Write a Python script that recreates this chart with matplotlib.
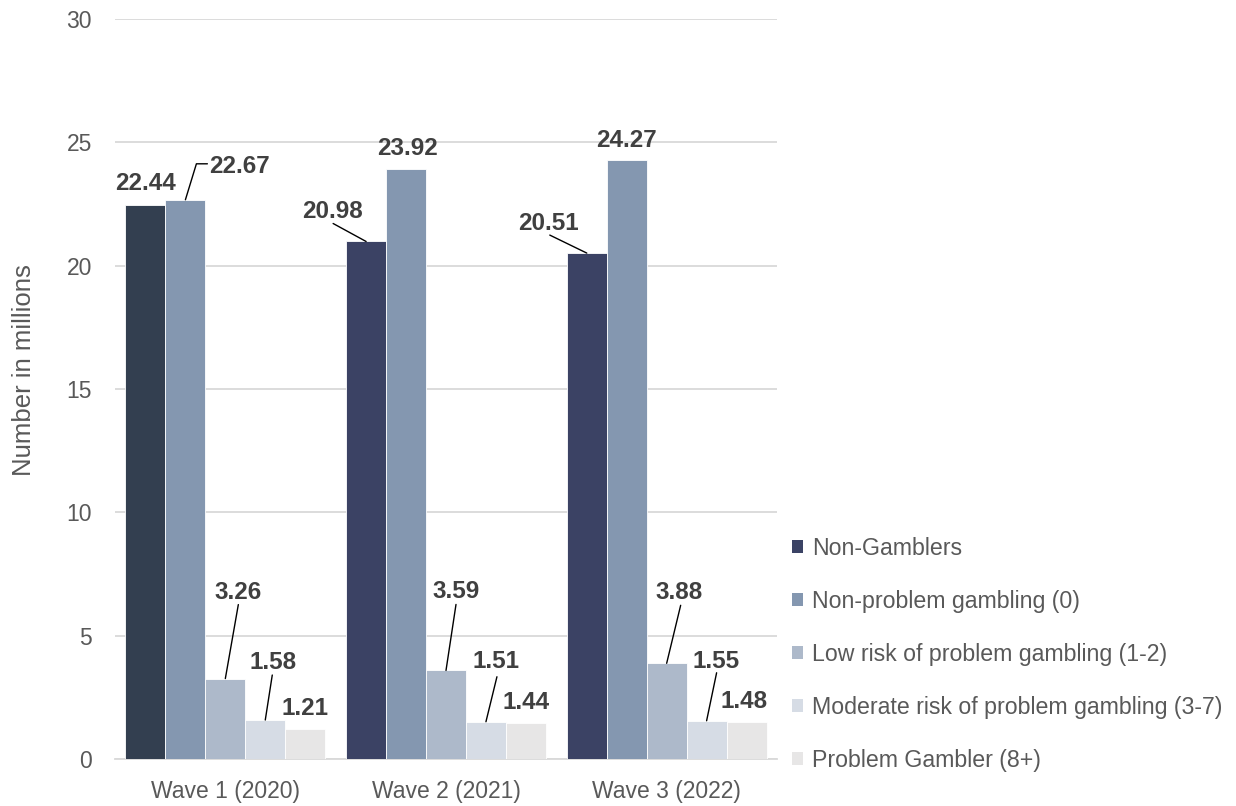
import matplotlib
matplotlib.use("Agg")
import matplotlib.pyplot as plt
from matplotlib.patches import Patch
import numpy as np

plt.rcParams['font.family'] = ['Liberation Sans', 'DejaVu Sans']

waves = ["Wave 1 (2020)", "Wave 2 (2021)", "Wave 3 (2022)"]
series = ["Non-Gamblers", "Non-problem gambling (0)", "Low risk of problem gambling (1-2)",
          "Moderate risk of problem gambling (3-7)", "Problem Gambler (8+)"]
non_gamblers = [22.44, 20.98, 20.51]
non_problem = [22.67, 23.92, 24.27]
low_risk = [3.26, 3.59, 3.88]
moderate_risk = [1.58, 1.51, 1.55]
problem = [1.21, 1.44, 1.48]
values = [non_gamblers, non_problem, low_risk, moderate_risk, problem]

colors = ['#3b4365', '#8497b0', '#adb9ca', '#d6dce5', '#e7e6e6']
first_bar_colors = ['#333f50', '#3b4264', '#3b4264']

# label placement (pixel offsets of text centre from bar top, leader end offsets)
text_off = [
    [(0, 22), (-34, 30), (-38, 30)],
    [(54, 33), (1, 20), (0, 20)],
    [(13, 86), (10, 79), (12, 71)],
    [(8, 58), (10, 60), (9, 59)],
    [(0, 21), (0, 21), (-2, 21)],
]
leader_off = [
    [None, (-33, 18), (-37, 18)],
    [(22, 36, 73), None, None],
    [(13, 74), (10, 66), (14, 58)],
    [(7, 45), (11, 45), (10, 48)],
    [None, None, None],
]

fig = plt.figure(figsize=(12.36, 8.06), dpi=100)
ax = fig.add_axes([115/1236, 47/806, 662/1236, 740/806])

x = np.arange(len(waves))
n = len(series)
w = 0.181
for i, (name, vals) in enumerate(zip(series, values)):
    pos = x + (i - (n - 1) / 2) * w
    col = first_bar_colors if i == 0 else colors[i]
    ax.bar(pos, vals, width=w, color=col, edgecolor='white', linewidth=0.6,
           label=name, zorder=3)
    for j, v in enumerate(vals):
        dx, dy = text_off[i][j]
        ax.annotate(f"{v:.2f}", xy=(pos[j], v), xytext=(dx, dy),
                    textcoords='offset pixels', ha='center', va='center',
                    fontsize=17.5, fontweight='bold', color='#404040', zorder=5)
        lo = leader_off[i][j]
        if lo is not None:
            if len(lo) == 3:
                cs = f"angle,angleA=0,angleB={lo[2]},rad=0"
            else:
                cs = "arc3"
            ax.annotate('', xy=(pos[j], v), xytext=(lo[0], lo[1]),
                        textcoords='offset pixels',
                        arrowprops=dict(arrowstyle='-', color='black', lw=1.0,
                                        shrinkA=0, shrinkB=0, connectionstyle=cs),
                        zorder=5)

ax.set_xlim(-0.5, 2.5)
ax.set_ylim(0, 30)
ax.set_yticks([0, 5, 10, 15, 20, 25, 30])
ax.set_xticks(x)
ax.set_xticklabels(waves)
ax.tick_params(axis='both', length=0, labelsize=16.5, labelcolor='#595959')
ax.tick_params(axis='y', pad=16.5)
ax.tick_params(axis='x', pad=15)
ax.grid(axis='y', color='#d9d9d9', linewidth=1.3, zorder=0)
for s in ['top', 'right', 'left']:
    ax.spines[s].set_visible(False)
ax.spines['bottom'].set_color('#d9d9d9')
ax.spines['bottom'].set_linewidth(1.3)
ax.set_ylabel("Number in millions", fontsize=18.5, color='#595959')
ax.yaxis.set_label_coords(-0.119, 0.5257)

leg_handles = [Patch(facecolor=colors[i], edgecolor='none') for i in range(n)]
leg = fig.legend(leg_handles, series, loc='upper left',
                 bbox_to_anchor=(792/1236, 1 - 537/806), frameon=False,
                 fontsize=16.7, labelcolor='#595959', handlelength=0.48,
                 handleheight=0.48, handletextpad=0.39, labelspacing=1.295,
                 borderpad=0, borderaxespad=0)

fig.savefig("out.png", dpi=100)
